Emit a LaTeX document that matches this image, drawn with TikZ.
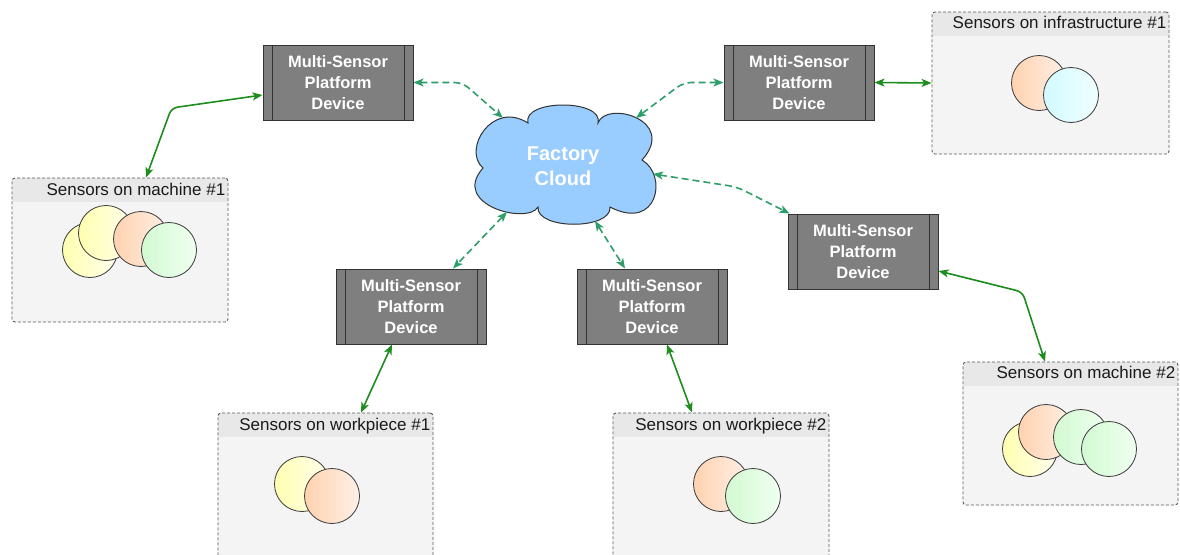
\documentclass[tikz,border=0pt]{standalone}
\usepackage{fontspec}
\setmainfont{Liberation Sans}
\newfontfamily\hv{Liberation Sans}
\usetikzlibrary{arrows.meta,calc}

\definecolor{devfill}{HTML}{7F7F7F}
\definecolor{devline}{HTML}{333333}
\definecolor{grpfill}{HTML}{F4F4F4}
\definecolor{grphdr}{HTML}{E8E8E8}
\definecolor{grpline}{HTML}{5A5A5A}
\definecolor{lbltext}{HTML}{1A1A1A}
\definecolor{cloudfill}{HTML}{99CCFF}
\definecolor{cloudline}{HTML}{333333}
\definecolor{linkgreen}{HTML}{1E8C1E}
\definecolor{cloudgreen}{HTML}{2E9E6B}
\definecolor{circline}{HTML}{3A3A3A}
\definecolor{yelA}{HTML}{FFFFB0}
\definecolor{yelB}{HTML}{FFFFEE}
\definecolor{oraA}{HTML}{FFD2B0}
\definecolor{oraB}{HTML}{FFF0E6}
\definecolor{grnA}{HTML}{D2FAD2}
\definecolor{grnB}{HTML}{F0FFF0}
\definecolor{cyaA}{HTML}{D2FAFF}
\definecolor{cyaB}{HTML}{F0FFFF}

\tikzset{
  devbox/.style={rectangle, draw=devline, line width=1pt, fill=devfill,
    minimum width=150pt, minimum height=75pt, inner sep=0pt,
    text=white, align=center,
    font=\hv\bfseries\fontsize{16.5pt}{21pt}\selectfont,
    path picture={
      \draw[devline, line width=1pt]
        ([xshift=9pt]path picture bounding box.north west) --
        ([xshift=9pt]path picture bounding box.south west);
      \draw[devline, line width=1pt]
        ([xshift=-9pt]path picture bounding box.north east) --
        ([xshift=-9pt]path picture bounding box.south east);
    }},
  group/.style={rectangle, rounded corners=3pt, draw=grpline,
    dash pattern=on 3pt off 2pt, line width=0.9pt, fill=grpfill,
    inner sep=0pt,
    path picture={
      \fill[grphdr, sharp corners]
        (path picture bounding box.north west) rectangle
        ([yshift=-24pt]path picture bounding box.north east);
    }},
  grplabel/.style={font=\hv\fontsize{17pt}{20pt}\selectfont,
    text=lbltext, inner sep=0pt, anchor=base east},
  sensor/.style={circle, draw=circline, line width=0.8pt,
    minimum size=55pt, inner sep=0pt},
  yel/.style={sensor, left color=yelA, right color=yelB},
  ora/.style={sensor, left color=oraA, right color=oraB},
  grn/.style={sensor, left color=grnA, right color=grnB},
  cya/.style={sensor, left color=cyaA, right color=cyaB},
  cloudshape/.style={draw=cloudline, line width=1pt, fill=cloudfill},
  link/.style={draw=linkgreen, line width=1.6pt, rounded corners=6pt,
    >={Stealth[length=10pt,width=8pt,inset=2.5pt]}, <->},
  cloudlink/.style={draw=cloudgreen, line width=1.6pt, rounded corners=8pt,
    dash pattern=on 7pt off 4pt,
    >={Stealth[length=10pt,width=8pt,inset=2.5pt]}, <->},
}

\begin{document}
\begin{tikzpicture}[x=1pt, y=-1pt]
\useasboundingbox (0,0) rectangle (1180,554);
\clip (0,0) rectangle (1180,554);
\fill[white] (0,0) rectangle (1180,554);

% sensor groups
\node[group, minimum width=216pt, minimum height=144pt] (m1) at (120,250) {};
\node[grplabel] at ([xshift=-3pt,yshift=-18pt]m1.north east) {Sensors on machine \#1};
\node[group, minimum width=237pt, minimum height=142pt] (infra) at (1050.5,83) {};
\node[grplabel] at ([xshift=-3pt,yshift=-17pt]infra.north east) {Sensors on infrastructure \#1};
\node[group, minimum width=215pt, minimum height=143pt] (m2) at (1070.5,433.5) {};
\node[grplabel] at ([xshift=-3pt,yshift=-17pt]m2.north east) {Sensors on machine \#2};
\node[group, minimum width=215pt, minimum height=157pt] (w1) at (325.5,491.5) {};
\node[grplabel] at ([xshift=-3pt,yshift=-18pt]w1.north east) {Sensors on workpiece \#1};
\node[group, minimum width=216pt, minimum height=157pt] (w2) at (721,491.5) {};
\node[grplabel] at ([xshift=-3pt,yshift=-18pt]w2.north east) {Sensors on workpiece \#2};

% sensors inside the groups
\node[yel] (m1s1) at (90,250) {};
\node[yel] (m1s2) at (106,233) {};
\node[ora] (m1s3) at (141,239) {};
\node[grn] (m1s4) at (169,250) {};

\node[ora] (ins1) at (1039,83) {};
\node[cya] (ins2) at (1071,95) {};

\node[yel] (m2s1) at (1030,449) {};
\node[ora] (m2s2) at (1046,432) {};
\node[grn] (m2s3) at (1081,437) {};
\node[grn] (m2s4) at (1109,449) {};

\node[yel] (w1s1) at (302,484) {};
\node[ora] (w1s2) at (332,496) {};

\node[ora] (w2s1) at (721,484) {};
\node[grn] (w2s2) at (753,496) {};

% platform devices
\node[devbox] (d1) at (338,82.5) {Multi-Sensor\\Platform\\Device};
\node[devbox] (d2) at (799,82.5) {Multi-Sensor\\Platform\\Device};
\node[devbox] (d3) at (863,251.5) {Multi-Sensor\\Platform\\Device};
\node[devbox] (d4) at (411,306.5) {Multi-Sensor\\Platform\\Device};
\node[devbox] (d5) at (652,306.5) {Multi-Sensor\\Platform\\Device};

% cloud outline: six puffs joined at their cusps
\path[cloudshape]
  (483,168) .. controls (462,150) and (492,100) .. (528,123)
            .. controls (522,99) and (604,99) .. (598,123)
            .. controls (606,100) and (678,120) .. (642,160)
            .. controls (668,175) and (658,232) .. (610,207)
            .. controls (612,230) and (536,230) .. (538,207)
            .. controls (528,225) and (450,205) .. (483,168) -- cycle;
\node[font=\hv\bfseries\fontsize{20pt}{25pt}\selectfont, text=white,
  align=center, inner sep=0pt] (cloud) at (563,166) {Factory\\Cloud};

% attachment points on the cloud outline
\coordinate (c1) at (503,118);
\coordinate (c2) at (636,118);
\coordinate (c3) at (653,174);
\coordinate (c4) at (507,212);
\coordinate (c5) at (595,221);

% device to cloud
\draw[cloudlink] (d1.east) -- ++(49,0) -- (c1);
\draw[cloudlink] (d2.west) -- ++(-40,0) -- (c2);
\draw[cloudlink] (c3) -- ++(84,13) -- ([xshift=2pt]d3.north west);
\draw[cloudlink] (c4) -- ([xshift=42pt]d4.north);
\draw[cloudlink] (c5) -- ([xshift=-27pt]d5.north);

% device to sensor group
\draw[link] ([yshift=-12.5pt]d1.west) -- ++(-91,13) -- ([xshift=26pt]m1.north);
\draw[link] (d2.east) -- (infra.west);
\draw[link] ([yshift=-19.5pt]d3.east) -- ++(84,21) -- ([xshift=-25.5pt]m2.north);
\draw[link] ([xshift=-19pt]d4.south) -- ([xshift=35.5pt]w1.north);
\draw[link] ([xshift=15pt]d5.south) -- ([xshift=-29pt]w2.north);
\end{tikzpicture}
\end{document}
